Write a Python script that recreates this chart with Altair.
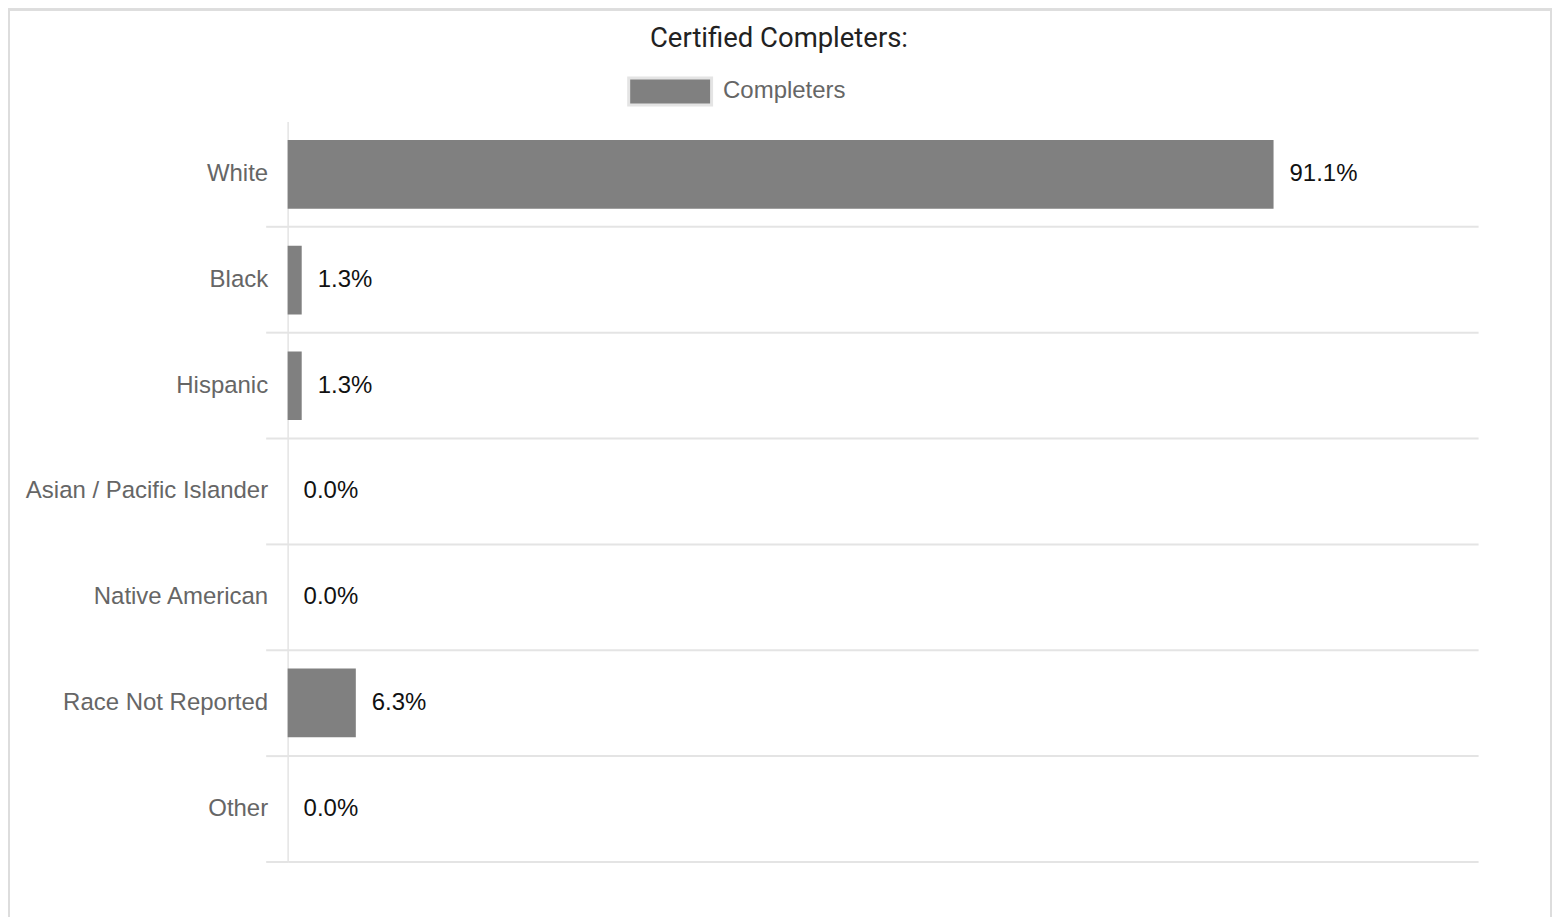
import altair as alt
import pandas as pd

categories = ["White", "Black", "Hispanic", "Asian / Pacific Islander",
              "Native American", "Race Not Reported", "Other"]
values = [91.1, 1.3, 1.3, 0.0, 0.0, 6.3, 0.0]
series_name = "Completers"
chart_title = "Certified Completers:"

df = pd.DataFrame({
    "category": categories,
    "value": values,
    "series": [series_name] * len(categories),
})

W, H = 1192, 741
GRID = "#e4e4e4"

y_enc = alt.Y(
    "category:N", sort=categories,
    scale=alt.Scale(paddingInner=0, paddingOuter=0),
    axis=alt.Axis(title=None, grid=True, bandPosition=1, tickExtra=False,
                  tickSize=22, tickColor=GRID, tickWidth=2,
                  gridColor=GRID, gridWidth=2,
                  domainColor=GRID, domainWidth=1.5,
                  labelFont="Liberation Sans", labelFontSize=24,
                  labelColor="#666666", labelPadding=-2, labelLimit=400),
)
x_enc = alt.X("value:Q", scale=alt.Scale(domain=[0, 110], nice=False, zero=True), axis=None)

base = alt.Chart(df)

frame = base.mark_rect(fill="transparent", stroke="#dddddd", strokeWidth=2).encode(
    x=alt.value(-279), x2=alt.value(W + 73), y=alt.value(-112), y2=alt.value(H + 80)
)

bars = base.mark_bar(height={"band": 0.65}).encode(
    x=x_enc, y=y_enc,
    color=alt.Color("series:N", scale=alt.Scale(range=["#808080"]),
                    legend=alt.Legend(title=None, orient="none", legendX=340, legendY=-73,
                                      symbolType="M-1,-0.325H1V0.325H-1Z", symbolSize=6889,
                                      symbolStrokeColor=GRID, symbolStrokeWidth=3,
                                      labelFont="Liberation Sans", labelFontSize=24,
                                      labelColor="#666666", labelOffset=10, padding=0)),
)

labels = base.transform_calculate(
    label="format(datum.value, '.1f') + '%'"
).mark_text(align="left", baseline="middle", dx=16, font="Liberation Sans",
            fontSize=24, color="#111111").encode(
    x=x_enc, y=y_enc, text="label:N"
)

chart = alt.layer(frame, bars, labels).properties(
    width=W, height=H,
    title=alt.TitleParams(chart_title, font="Roboto", fontSize=27.5, fontWeight="normal",
                          color="#222222", anchor="middle", dx=-104, dy=48),
    autosize="none",
    padding={"left": 280, "top": 113, "right": 75, "bottom": 55},
).configure_view(stroke=None)

chart.save("out.html", embed_options={"renderer": "svg", "actions": False})
